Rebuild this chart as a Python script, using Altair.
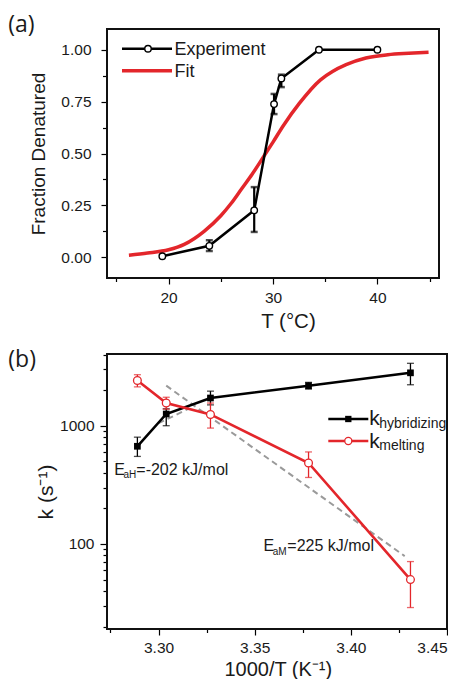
import altair as alt
import pandas as pd

FONT = "Liberation Sans"

# ---------------- Panel (a) data ----------------
T_exp = [19.4, 23.9, 28.2, 30.1, 30.8, 34.4, 40.0]
F_exp = [0.005, 0.055, 0.226, 0.738, 0.862, 1.0, 1.0]
T_err = [23.9, 28.2, 30.1, 30.8]
F_err_lo = [0.03, 0.122, 0.69, 0.82]
F_err_hi = [0.082, 0.338, 0.787, 0.88]
T_fit = [16.2, 18.0, 20.0, 21.5, 23.4, 25.0, 26.0, 27.0, 28.0, 29.1, 30.0, 31.0,
         32.5, 34.55, 35.7, 37.0, 38.9, 41.0, 43.0, 44.9]
F_fit = [0.010, 0.020, 0.036, 0.062, 0.125, 0.20, 0.26, 0.33, 0.40, 0.485, 0.555, 0.635,
         0.74, 0.855, 0.895, 0.928, 0.96, 0.976, 0.983, 0.988]
xa_major = [20, 30, 40]
xa_minor = [15, 25, 35, 45]
ya_major = [0.0, 0.25, 0.5, 0.75, 1.0]
ya_minor = [0.125, 0.375, 0.625, 0.875]
xa_range = [14.1, 45.9]
ya_range = [-0.1, 1.1]

# ---------------- Panel (b) data ----------------
inv_T = [3.289, 3.304, 3.327, 3.378, 3.431]
k_hyb = [670, 1256, 1715, 2180, 2800]
k_hyb_lo = [550, 1000, 1500, 2040, 2220]
k_hyb_hi = [800, 1390, 1960, 2325, 3370]
k_melt = [2415, 1555, 1245, 484, 50]
k_melt_lo = [2130, 1380, 955, 365, 29]
k_melt_hi = [2700, 1740, 1555, 600, 71]
fitM_x = [3.304, 3.428]
fitM_y = [2180, 79]
fitH_x = [3.300, 3.316]
fitH_y = [1050, 1400]
xb_major = [3.30, 3.35, 3.40, 3.45]
xb_minor = [3.275, 3.325, 3.375, 3.425]
yb_major = [100, 1000]
yb_minor = [20, 30, 40, 50, 60, 70, 80, 90, 200, 300, 400, 500, 600, 700, 800, 900,
            2000, 3000, 4000]
xb_range = [3.2732, 3.45]
yb_range = [19.1, 4040]

RED = "#e3262b"
TXT = "#1a1a1a"
one = alt.Data(values=[{}])

TITLE_KW = dict(titleBaseline="middle", titleAlign="center", titleFontWeight="normal",
                titleFont=FONT, titleColor=TXT)


def txt(t, x, y, size, **kw):
    return alt.Chart(one).mark_text(text=t, align="left", baseline="alphabetic", font=FONT,
                                    fontSize=size, color=TXT, **kw).encode(
        x=alt.value(x), y=alt.value(y))


def box(xr, yr, sx, sy):
    """plot frame: a rectangle spanning the axis ranges, drawn through the scales"""
    df = pd.DataFrame({"x0": [xr[0]], "x1": [xr[1]], "y0": [yr[0]], "y1": [yr[1]]})
    return alt.Chart(df).mark_rect(fill="white", fillOpacity=0, stroke="#111111",
                                   strokeWidth=2, strokeOpacity=1).encode(
        x=alt.X("x0:Q", scale=sx, axis=None), x2="x1:Q",
        y=alt.Y("y0:Q", scale=sy, axis=None), y2="y1:Q")


# ---------------- Panel (a) ----------------
exp_df = pd.DataFrame({"T": T_exp, "F": F_exp})
err_df = pd.DataFrame({"T": T_err, "lo": F_err_lo, "hi": F_err_hi})
cap_df = pd.DataFrame({"T": T_err * 2, "F": F_err_lo + F_err_hi})
fit_df = pd.DataFrame({"T": T_fit, "F": F_fit})

WA, HA = 332, 249
sxa = alt.Scale(domain=xa_range, nice=False, zero=False)
sya = alt.Scale(domain=ya_range, nice=False, zero=False)

ax_xa = alt.Axis(values=xa_major, format="d", tickSize=6, labelPadding=6, orient="bottom",
                 title="T (°C)", titleX=181, titleY=43, titleFontSize=20.5, **TITLE_KW)
ax_ya = alt.Axis(values=ya_major, format=".2f", tickSize=6, labelPadding=10, orient="left",
                 title="Fraction Denatured", titleX=-69, titleY=HA / 2, titleAngle=270,
                 titleFontSize=19, **TITLE_KW)
ax_xa_min = alt.Axis(values=xa_minor, labels=False, tickSize=3.5, title=None, orient="bottom")
ax_ya_min = alt.Axis(values=ya_minor, labels=False, tickSize=4.5, title=None, orient="left")

Xa = lambda f="T": alt.X(f"{f}:Q", scale=sxa, axis=None)
Ya = lambda f="F": alt.Y(f"{f}:Q", scale=sya, axis=None)

fit_line = alt.Chart(fit_df).mark_line(color=RED, strokeWidth=3.5, interpolate="monotone").encode(
    x=alt.X("T:Q", scale=sxa, axis=ax_xa), y=alt.Y("F:Q", scale=sya, axis=ax_ya))
exp_line = alt.Chart(exp_df).mark_line(color="black", strokeWidth=2.5).encode(x=Xa(), y=Ya())
err_rule = alt.Chart(err_df).mark_rule(color="black", strokeWidth=2.2).encode(
    x=Xa(), y=Ya("lo"), y2="hi:Q")
err_cap = alt.Chart(cap_df).mark_tick(color="black", orient="horizontal", size=7, thickness=2.5).encode(
    x=Xa(), y=Ya())
exp_pts = alt.Chart(exp_df).mark_point(shape="circle", filled=True, fill="white", stroke="black",
                                       strokeWidth=1.4, size=42, opacity=1).encode(x=Xa(), y=Ya())
minor_a = alt.Chart(exp_df).mark_point(opacity=0).encode(
    x=alt.X("T:Q", scale=sxa, axis=ax_xa_min), y=alt.Y("F:Q", scale=sya, axis=ax_ya_min))

leg_a = [
    alt.Chart(one).mark_rule(color="black", strokeWidth=2.5).encode(
        x=alt.value(15), x2=alt.value(65), y=alt.value(19.7)),
    alt.Chart(one).mark_point(shape="circle", filled=True, fill="white", stroke="black",
                              strokeWidth=1.4, size=42, opacity=1).encode(
        x=alt.value(41), y=alt.value(19.7)),
    txt("Experiment", 67.5, 26, 18),
    alt.Chart(one).mark_rule(color=RED, strokeWidth=3.5).encode(
        x=alt.value(15), x2=alt.value(65), y=alt.value(41.7)),
    txt("Fit", 67.5, 48, 18),
    alt.Chart(one).mark_text(text="(a)", align="left", baseline="top", font="Open Sans",
                             fontSize=23, color=TXT).encode(x=alt.value(-98.7), y=alt.value(-15)),
]

panel_a = alt.layer(fit_line, exp_line, err_rule, err_cap, exp_pts, minor_a, *leg_a,
                    box(xa_range, ya_range, sxa, sya)).resolve_axis(
    x="independent", y="independent").properties(width=WA, height=HA)

# ---------------- Panel (b) ----------------
hyb_df = pd.DataFrame({"x": inv_T, "k": k_hyb, "lo": k_hyb_lo, "hi": k_hyb_hi})
melt_df = pd.DataFrame({"x": inv_T, "k": k_melt, "lo": k_melt_lo, "hi": k_melt_hi})
hyb_cap = pd.DataFrame({"x": inv_T * 2, "k": k_hyb_lo + k_hyb_hi})
melt_cap = pd.DataFrame({"x": inv_T * 2, "k": k_melt_lo + k_melt_hi})
fitM_df = pd.DataFrame({"x": fitM_x, "k": fitM_y})
fitH_df = pd.DataFrame({"x": fitH_x, "k": fitH_y})

WB, HB = 340, 275
sxb = alt.Scale(domain=xb_range, nice=False, zero=False)
syb = alt.Scale(type="log", domain=yb_range, nice=False)

ax_xb = alt.Axis(values=xb_major, format=".2f", tickSize=6, labelPadding=5, orient="bottom",
                 title="1000/T (K⁻¹)", titleX=170.8, titleY=40, titleFontSize=20, **TITLE_KW)
ax_yb = alt.Axis(values=yb_major, format="d", tickSize=7, labelPadding=6, orient="left",
                 title="k (s⁻¹)", titleX=-61, titleY=HB / 2, titleAngle=270,
                 titleFontSize=21, **TITLE_KW)
ax_xb_min = alt.Axis(values=xb_minor, labels=False, tickSize=3.5, title=None, orient="bottom")
ax_yb_min = alt.Axis(values=yb_minor, labels=False, tickSize=4, title=None, orient="left")

Xb = lambda f="x": alt.X(f"{f}:Q", scale=sxb, axis=None)
Yb = lambda f="k": alt.Y(f"{f}:Q", scale=syb, axis=None)

dash_kw = dict(color="#9a9a9a", strokeWidth=2, strokeDash=[6, 4])
fitM_line = alt.Chart(fitM_df).mark_line(**dash_kw).encode(
    x=alt.X("x:Q", scale=sxb, axis=ax_xb), y=alt.Y("k:Q", scale=syb, axis=ax_yb))
fitH_line = alt.Chart(fitH_df).mark_line(**dash_kw).encode(x=Xb(), y=Yb())

hyb_rule = alt.Chart(hyb_df).mark_rule(color="black", strokeWidth=1.3).encode(
    x=Xb(), y=Yb("lo"), y2="hi:Q")
hyb_caps = alt.Chart(hyb_cap).mark_tick(color="black", orient="horizontal", size=7, thickness=1.3).encode(
    x=Xb(), y=Yb())
melt_rule = alt.Chart(melt_df).mark_rule(color=RED, strokeWidth=1.3).encode(
    x=Xb(), y=Yb("lo"), y2="hi:Q")
melt_caps = alt.Chart(melt_cap).mark_tick(color=RED, orient="horizontal", size=7, thickness=1.3).encode(
    x=Xb(), y=Yb())
hyb_line = alt.Chart(hyb_df).mark_line(color="black", strokeWidth=2.6).encode(x=Xb(), y=Yb())
melt_line = alt.Chart(melt_df).mark_line(color=RED, strokeWidth=2.6).encode(x=Xb(), y=Yb())
hyb_pts = alt.Chart(hyb_df).mark_point(shape="square", filled=True, color="black", size=45,
                                       opacity=1).encode(x=Xb(), y=Yb())
melt_pts = alt.Chart(melt_df).mark_point(shape="circle", filled=True, fill="white", stroke=RED,
                                         strokeWidth=1.3, size=60, opacity=1).encode(x=Xb(), y=Yb())
minor_b = alt.Chart(hyb_df).mark_point(opacity=0).encode(
    x=alt.X("x:Q", scale=sxb, axis=ax_xb_min), y=alt.Y("k:Q", scale=syb, axis=ax_yb_min))

leg_b = [
    alt.Chart(one).mark_rule(color="black", strokeWidth=2.6).encode(
        x=alt.value(221.3), x2=alt.value(261.3), y=alt.value(65)),
    alt.Chart(one).mark_point(shape="square", filled=True, color="black", size=40, opacity=1).encode(
        x=alt.value(241.3), y=alt.value(65)),
    txt("k", 262.3, 71, 21),
    txt("hybridizing", 272.3, 74, 14),
    alt.Chart(one).mark_rule(color=RED, strokeWidth=2.6).encode(
        x=alt.value(221.3), x2=alt.value(261.3), y=alt.value(87)),
    alt.Chart(one).mark_point(shape="circle", filled=True, fill="white", stroke=RED,
                              strokeWidth=1.3, size=50, opacity=1).encode(
        x=alt.value(241.3), y=alt.value(87)),
    txt("k", 262.3, 93.5, 21),
    txt("melting", 272.3, 96, 14),
    txt("E", 7.3, 120.5, 16),
    txt("aH", 16.5, 124, 10),
    txt("=-202 kJ/mol", 29.3, 120.5, 16),
    txt("E", 156.6, 197.3, 16),
    txt("aM", 165.8, 200.5, 10),
    txt("=225 kJ/mol", 180.3, 197.3, 16),
    alt.Chart(one).mark_text(text="(b)", align="left", baseline="top", font="Open Sans",
                             fontSize=23, color=TXT).encode(x=alt.value(-98.7), y=alt.value(-5)),
]

panel_b = alt.layer(fitM_line, fitH_line, hyb_rule, hyb_caps, melt_rule, melt_caps,
                    hyb_line, melt_line, hyb_pts, melt_pts, minor_b, *leg_b,
                    box(xb_range, yb_range, sxb, syb)).resolve_axis(
    x="independent", y="independent").properties(width=WB, height=HB)

chart = alt.vconcat(panel_a, panel_b, spacing=17).properties(
    padding={"left": 0, "top": 6, "right": 0, "bottom": 0},
    background="white",
).configure_view(strokeWidth=0).configure_axis(
    domain=False, grid=False, labelFont=FONT, labelFontSize=15.5, labelColor=TXT,
    tickColor="black", tickWidth=1.2, titleFont=FONT, titleFontWeight="normal", titleColor=TXT,
)

chart.save("out.html", embed_options={"renderer": "svg", "actions": False})
